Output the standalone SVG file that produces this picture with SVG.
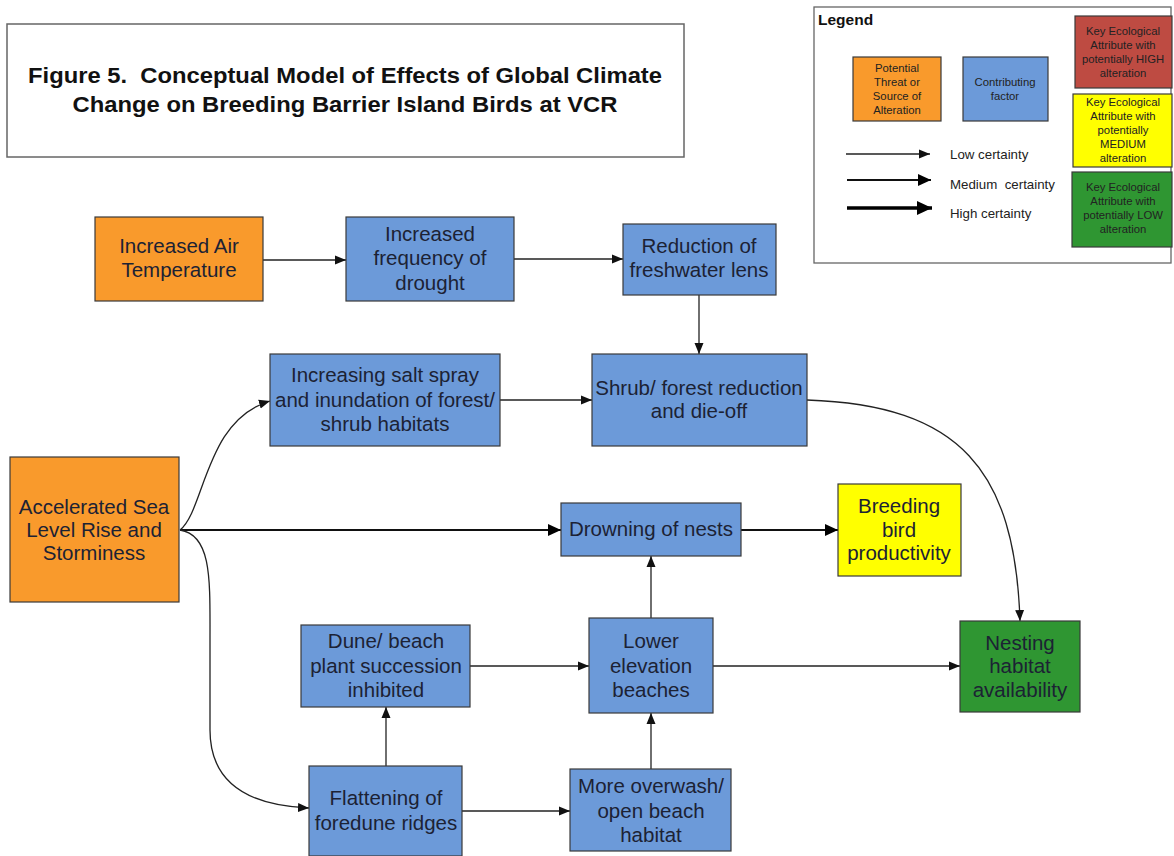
<svg xmlns="http://www.w3.org/2000/svg" width="1174" height="856" viewBox="0 0 1174 856">
<defs>
<style>
.t{font-family:"Liberation Sans",Arial,sans-serif;font-size:20.5px;fill:#1c2234;text-anchor:middle}
.ts{font-family:"Liberation Sans",Arial,sans-serif;font-size:11.3px;fill:#222;text-anchor:middle}
.tl{font-family:"Liberation Sans",Arial,sans-serif;font-size:13.3px;fill:#222;white-space:pre}
.ttl{font-family:"Liberation Sans",Arial,sans-serif;font-size:22px;font-weight:bold;fill:#111;text-anchor:middle;white-space:pre}
.box{stroke:#3a3a3a;stroke-width:1.2}
.or{fill:#F99A2C}
.bl{fill:#6C9AD9}
.ye{fill:#FFFF00}
.gr{fill:#2F9632}
.rd{fill:#BE4B42}
.c1{fill:none;stroke:#222;stroke-width:1.3}
.c2{fill:none;stroke:#111;stroke-width:2}
.c3{fill:none;stroke:#000;stroke-width:3.5}
</style>
<marker id="a1" markerUnits="userSpaceOnUse" markerWidth="12" markerHeight="10" refX="11" refY="5" orient="auto"><path d="M0,0.5 L11,5 L0,9.5 Z" fill="#111"/></marker>
<marker id="a2" markerUnits="userSpaceOnUse" markerWidth="14" markerHeight="12" refX="13" refY="6" orient="auto"><path d="M0,0 L13,6 L0,12 Z" fill="#000"/></marker>
<marker id="a3" markerUnits="userSpaceOnUse" markerWidth="16" markerHeight="14" refX="15" refY="7" orient="auto"><path d="M0,0 L15,7 L0,14 Z" fill="#000"/></marker>
</defs>
<rect width="1174" height="856" fill="#fff"/>

<g id="title">
<rect x="7" y="24" width="677" height="133" fill="#fff" stroke="#666" stroke-width="1.5"/>
<text class="ttl" x="345" y="83" xml:space="preserve" textLength="634" lengthAdjust="spacingAndGlyphs">Figure 5.  Conceptual Model of Effects of Global Climate</text>
<text class="ttl" x="345" y="112" textLength="545" lengthAdjust="spacingAndGlyphs">Change on Breeding Barrier Island Birds at VCR</text>
</g>

<g id="legend">
<rect x="814" y="7" width="357" height="256" fill="#fff" stroke="#666" stroke-width="1.3"/>
<text x="818" y="25" font-family="Liberation Sans, Arial, sans-serif" font-size="15.5" font-weight="bold" fill="#111">Legend</text>
<rect class="box or" x="853" y="57" width="88" height="64"/>
<text class="ts" x="897" y="72">Potential</text>
<text class="ts" x="897" y="86">Threat or</text>
<text class="ts" x="897" y="100">Source of</text>
<text class="ts" x="897" y="114">Alteration</text>
<rect class="box bl" x="963" y="57" width="85" height="64"/>
<text class="ts" x="1005" y="86">Contributing</text>
<text class="ts" x="1005" y="100">factor</text>
<rect class="box rd" x="1075" y="16" width="97" height="72"/>
<text class="ts" x="1123" y="35">Key Ecological</text>
<text class="ts" x="1123" y="49">Attribute with</text>
<text class="ts" x="1123" y="63">potentially HIGH</text>
<text class="ts" x="1123" y="77">alteration</text>
<rect class="box ye" x="1073" y="94" width="99" height="73"/>
<text class="ts" x="1123" y="106">Key Ecological</text>
<text class="ts" x="1123" y="120">Attribute with</text>
<text class="ts" x="1123" y="134">potentially</text>
<text class="ts" x="1123" y="148">MEDIUM</text>
<text class="ts" x="1123" y="162">alteration</text>
<rect class="box gr" x="1072" y="172" width="100" height="75"/>
<text class="ts" x="1123" y="191">Key Ecological</text>
<text class="ts" x="1123" y="205">Attribute with</text>
<text class="ts" x="1123" y="219">potentially LOW</text>
<text class="ts" x="1123" y="233">alteration</text>
<line class="c1" x1="846" y1="154" x2="930" y2="154" marker-end="url(#a1)"/>
<line class="c2" x1="847" y1="180" x2="931" y2="180" marker-end="url(#a2)"/>
<line class="c3" x1="847" y1="208" x2="932" y2="208" marker-end="url(#a3)"/>
<text class="tl" x="950" y="159">Low certainty</text>
<text class="tl" x="950" y="189" xml:space="preserve">Medium  certainty</text>
<text class="tl" x="950" y="218">High certainty</text>
</g>

<g id="connectors">
<line class="c1" x1="263" y1="260" x2="346" y2="260" marker-end="url(#a1)"/>
<line class="c1" x1="514" y1="259" x2="623" y2="259" marker-end="url(#a1)"/>
<line class="c1" x1="699" y1="295" x2="699" y2="354" marker-end="url(#a1)"/>
<line class="c1" x1="500" y1="400" x2="592" y2="400" marker-end="url(#a1)"/>
<path class="c1" d="M180,530 C205,510 205,420 270,401" marker-end="url(#a1)"/>
<line class="c2" x1="180" y1="530" x2="561" y2="530" marker-end="url(#a2)"/>
<path class="c1" d="M180,530 C212,535 210,580 210,640 L210,730 C210,790 260,806 309,808" marker-end="url(#a1)"/>
<path class="c1" d="M807,400 C960,405 1015,470 1020,621" marker-end="url(#a1)"/>
<line class="c2" x1="741" y1="530" x2="838" y2="530" marker-end="url(#a2)"/>
<line class="c1" x1="651" y1="618" x2="651" y2="556" marker-end="url(#a1)"/>
<line class="c1" x1="470" y1="666" x2="589" y2="666" marker-end="url(#a1)"/>
<line class="c1" x1="713" y1="666" x2="960" y2="666" marker-end="url(#a1)"/>
<line class="c1" x1="386" y1="766" x2="386" y2="707" marker-end="url(#a1)"/>
<line class="c1" x1="462" y1="811" x2="570" y2="811" marker-end="url(#a1)"/>
<line class="c1" x1="651" y1="769" x2="651" y2="713" marker-end="url(#a1)"/>
</g>

<g id="n_airtemp">
<rect class="box or" x="95" y="217" width="168" height="84"/>
<text class="t" x="179" y="253">Increased Air</text>
<text class="t" x="179" y="277">Temperature</text>
</g>
<g id="n_drought">
<rect class="box bl" x="346" y="217" width="168" height="84"/>
<text class="t" x="430" y="241">Increased</text>
<text class="t" x="430" y="265">frequency of</text>
<text class="t" x="430" y="290">drought</text>
</g>
<g id="n_freshwater">
<rect class="box bl" x="623" y="224" width="153" height="71"/>
<text class="t" x="699" y="253">Reduction of</text>
<text class="t" x="699" y="277">freshwater lens</text>
</g>
<g id="n_saltspray">
<rect class="box bl" x="270" y="354" width="230" height="92"/>
<text class="t" x="385" y="382">Increasing salt spray</text>
<text class="t" x="385" y="407">and inundation of forest/</text>
<text class="t" x="385" y="431">shrub habitats</text>
</g>
<g id="n_shrub">
<rect class="box bl" x="592" y="354" width="215" height="92"/>
<text class="t" x="699" y="395">Shrub/ forest reduction</text>
<text class="t" x="699" y="418">and die-off</text>
</g>
<g id="n_sealevel">
<rect class="box or" x="10" y="457" width="169" height="145"/>
<text class="t" x="94" y="514">Accelerated Sea</text>
<text class="t" x="94" y="537">Level Rise and</text>
<text class="t" x="94" y="560">Storminess</text>
</g>
<g id="n_drowning">
<rect class="box bl" x="561" y="503" width="180" height="53"/>
<text class="t" x="651" y="536">Drowning of nests</text>
</g>
<g id="n_breeding">
<rect class="box ye" x="838" y="484" width="123" height="92"/>
<text class="t" x="899" y="513">Breeding</text>
<text class="t" x="899" y="537">bird</text>
<text class="t" x="899" y="560">productivity</text>
</g>
<g id="n_nesting">
<rect class="box gr" x="960" y="621" width="120" height="91"/>
<text class="t" x="1020" y="650">Nesting</text>
<text class="t" x="1020" y="673">habitat</text>
<text class="t" x="1020" y="697">availability</text>
</g>
<g id="n_dune">
<rect class="box bl" x="301" y="625" width="169" height="82"/>
<text class="t" x="386" y="648">Dune/ beach</text>
<text class="t" x="386" y="673">plant succession</text>
<text class="t" x="386" y="697">inhibited</text>
</g>
<g id="n_lower">
<rect class="box bl" x="589" y="618" width="124" height="95"/>
<text class="t" x="651" y="648">Lower</text>
<text class="t" x="651" y="673">elevation</text>
<text class="t" x="651" y="697">beaches</text>
</g>
<g id="n_flatten">
<rect class="box bl" x="309" y="766" width="153" height="90"/>
<text class="t" x="386" y="805">Flattening of</text>
<text class="t" x="386" y="830">foredune ridges</text>
</g>
<g id="n_overwash">
<rect class="box bl" x="570" y="769" width="161" height="82"/>
<text class="t" x="651" y="793">More overwash/</text>
<text class="t" x="651" y="818">open beach</text>
<text class="t" x="651" y="842">habitat</text>
</g>
</svg>
